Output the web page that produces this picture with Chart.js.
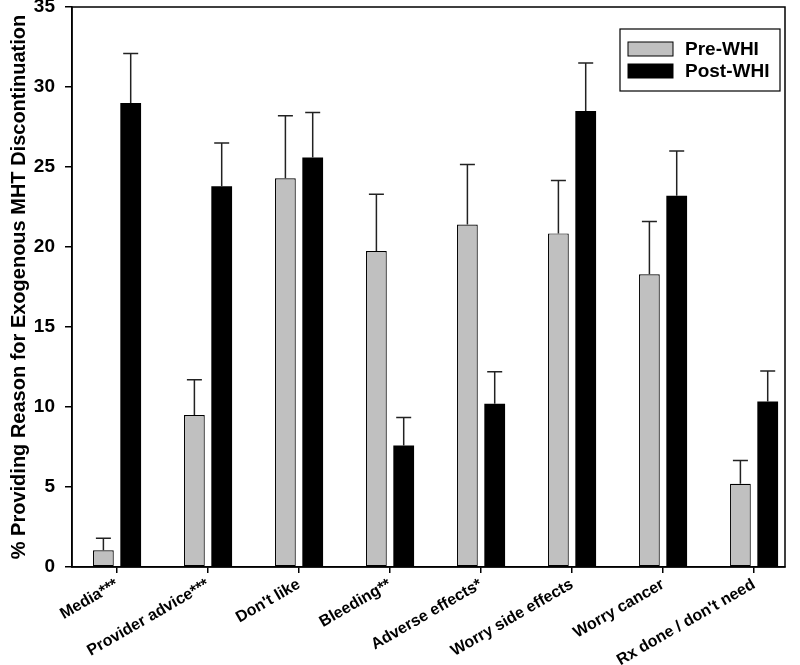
<!DOCTYPE html>
<html>
<head>
<meta charset="utf-8">
<script src="https://cdn.jsdelivr.net/npm/chart.js@4.4.1/dist/chart.umd.min.js"></script>
<style>
  html, body { margin: 0; padding: 0; background: #fff; }
  #wrap { width: 800px; height: 665px; }
</style>
</head>
<body>
<div id="wrap"><canvas id="chart" width="800" height="665"></canvas></div>
<script>
const categories = ['Media***', 'Provider advice***', "Don't like", 'Bleeding**', 'Adverse effects*', 'Worry side effects', 'Worry cancer', "Rx done / don't need"];
const preWHI = [1.05, 9.5, 24.3, 19.75, 21.4, 20.85, 18.3, 5.2];
const preWHIErr = [0.75, 2.2, 3.9, 3.55, 3.75, 3.3, 3.3, 1.45];
const postWHI = [29.0, 23.8, 25.6, 7.6, 10.2, 28.5, 23.2, 10.35];
const postWHIErr = [3.1, 2.7, 2.8, 1.75, 2.0, 3.0, 2.8, 1.9];
const yTicks = [0, 5, 10, 15, 20, 25, 30, 35];

const FONT = '"Liberation Sans", Arial, sans-serif';
const shift = 0.15;

// error bars drawn upward from each bar top
const errorBars = {
  id: 'errorBars',
  afterDatasetsDraw(chart) {
    const ctx = chart.ctx;
    const y = chart.scales.y;
    ctx.save();
    ctx.strokeStyle = '#222';
    ctx.lineWidth = 1.5;
    chart.data.datasets.forEach((ds, di) => {
      const meta = chart.getDatasetMeta(di);
      meta.data.forEach((bar, i) => {
        const top = y.getPixelForValue(ds.data[i].y + ds.err[i]);
        ctx.beginPath();
        ctx.moveTo(bar.x, bar.y);
        ctx.lineTo(bar.x, top);
        ctx.moveTo(bar.x - 7.5, top);
        ctx.lineTo(bar.x + 7.5, top);
        ctx.stroke();
      });
    });
    ctx.restore();
  }
};

// box around plot + framed legend
const frame = {
  id: 'frame',
  afterDraw(chart) {
    const ctx = chart.ctx;
    const a = chart.chartArea;
    ctx.save();
    ctx.strokeStyle = '#000';
    ctx.lineWidth = 1.5;
    ctx.strokeRect(a.left, a.top, a.right - a.left, a.bottom - a.top);

    const lx = a.right - 165, ly = a.top + 22;
    ctx.lineWidth = 1.2;
    ctx.strokeRect(lx, ly, 160, 62);
    ctx.font = 'bold 19px ' + FONT;
    ctx.textBaseline = 'middle';
    chart.data.datasets.forEach((ds, i) => {
      const ry = ly + 13 + i * 22;
      ctx.fillStyle = ds.backgroundColor;
      ctx.fillRect(lx + 8, ry, 45, 14);
      ctx.strokeStyle = '#000';
      ctx.lineWidth = 1;
      ctx.strokeRect(lx + 8, ry, 45, 14);
      ctx.fillStyle = '#000';
      ctx.fillText(ds.label, lx + 65, ry + 8);
    });
    ctx.restore();
  }
};

new Chart(document.getElementById('chart'), {
  type: 'bar',
  data: {
    datasets: [
      {
        label: 'Pre-WHI',
        data: preWHI.map((v, i) => ({ x: i - shift, y: v })),
        err: preWHIErr,
        backgroundColor: '#c0c0c0',
        borderColor: '#000',
        borderWidth: 1.2,
        borderSkipped: false
      },
      {
        label: 'Post-WHI',
        data: postWHI.map((v, i) => ({ x: i + shift, y: v })),
        err: postWHIErr,
        backgroundColor: '#000',
        borderColor: '#000',
        borderWidth: 0
      }
    ]
  },
  options: {
    responsive: false,
    animation: false,
    grouped: false,
    barPercentage: 0.76,
    categoryPercentage: 1,
    layout: { padding: { top: 7, right: 15, left: 0, bottom: 0 } },
    plugins: { legend: { display: false }, tooltip: { enabled: false } },
    scales: {
      x: {
        type: 'linear',
        offset: false,
        min: -0.495,
        max: 7.34,
        afterBuildTicks: s => { s.ticks = categories.map((c, i) => ({ value: i })); },
        afterFit: s => { s.height = 98; s.paddingLeft = 0; s.paddingRight = 0; },
        border: { display: true, color: '#000', width: 1.5 },
        grid: { offset: false, drawOnChartArea: false, drawTicks: true, tickLength: 6, color: '#000', lineWidth: 1.5 },
        ticks: {
          autoSkip: false,
          minRotation: 30,
          maxRotation: 30,
          padding: 2,
          color: '#000',
          font: { family: FONT, size: 16, weight: 'bold' },
          callback: v => categories[v]
        }
      },
      y: {
        min: 0,
        max: 35,
        afterBuildTicks: s => { s.ticks = yTicks.map(v => ({ value: v })); },
        afterFit: s => { s.width = 72; s.paddingTop = 0; s.paddingBottom = 0; },
        border: { display: true, color: '#000', width: 1.5 },
        grid: { drawOnChartArea: false, drawTicks: true, tickLength: 7, color: '#000', lineWidth: 1.5 },
        ticks: {
          padding: 10,
          color: '#000',
          font: { family: FONT, size: 19, weight: 'bold' }
        },
        title: {
          display: true,
          text: '% Providing Reason for Exogenous MHT Discontinuation',
          color: '#000',
          font: { family: FONT, size: 20, weight: 'bold' },
          padding: { top: 7, bottom: 0 }
        }
      }
    }
  },
  plugins: [errorBars, frame]
});
</script>
</body>
</html>
